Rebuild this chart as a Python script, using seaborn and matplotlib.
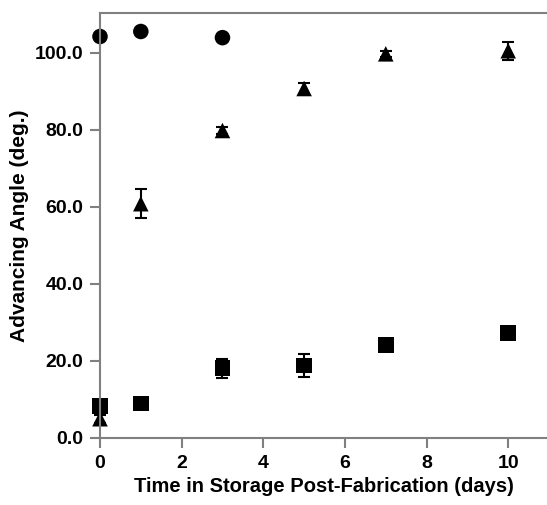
import matplotlib
matplotlib.use("Agg")
import matplotlib.pyplot as plt
import seaborn as sns
import pandas as pd

# Data
circle_days = [0, 1, 3]
circle_vals = [104.2, 105.5, 103.9]
circle_err = [1.0, 0.5, 0.5]

tri_days = [0, 1, 3, 5, 7, 10]
tri_vals = [5.0, 60.8, 79.8, 90.7, 99.7, 100.5]
tri_err = [1.0, 3.7, 0.8, 1.5, 0.8, 2.3]

sq_days = [0, 1, 3, 5, 7, 10]
sq_vals = [8.3, 9.0, 18.1, 18.8, 24.1, 27.2]
sq_err = [1.0, 1.3, 2.4, 2.9, 1.3, 0.5]

x_ticks = [0, 2, 4, 6, 8, 10]
y_ticks = [0, 20, 40, 60, 80, 100]

rows = []
for name, d, v, e in [("circle", circle_days, circle_vals, circle_err),
                      ("triangle", tri_days, tri_vals, tri_err),
                      ("square", sq_days, sq_vals, sq_err)]:
    for di, vi, ei in zip(d, v, e):
        rows.append({"series": name, "day": di, "angle": vi, "err": ei})
df = pd.DataFrame(rows)

sns.set_style("white")
plt.rcParams['font.family'] = ['Liberation Sans', 'DejaVu Sans']
plt.rcParams['font.weight'] = 'bold'
plt.rcParams['text.color'] = 'black'
plt.rcParams['axes.labelcolor'] = 'black'
plt.rcParams['xtick.color'] = 'black'
plt.rcParams['ytick.color'] = 'black'

fig = plt.figure(figsize=(5.47, 5.05), dpi=100)
ax = fig.add_axes([100/547, 1-438/505, 447/547, 425/505])

for name in ["circle", "triangle", "square"]:
    sub = df[df.series == name]
    ax.errorbar(sub.day, sub.angle, yerr=sub.err, fmt='none', ecolor='black',
                elinewidth=1.5, capsize=4.5, capthick=1.5, zorder=2, clip_on=False)

sns.scatterplot(data=df, x="day", y="angle", style="series",
                markers={"circle": "o", "triangle": "^", "square": "s"},
                s=125, color="black", edgecolor="black",
                linewidth=0, legend=False, ax=ax, zorder=3, clip_on=False)

ax.set_xlim(0, 10.95)
ax.set_ylim(0, 110.3)
ax.set_xticks(x_ticks)
ax.set_yticks(y_ticks)
ax.set_yticklabels([f"{t:.1f}" for t in y_ticks])
ax.tick_params(axis='both', direction='out', length=7, width=1.5, color='#808080',
               labelcolor='black', labelsize=14, pad=5, bottom=True, left=True)
for lab in ax.get_xticklabels() + ax.get_yticklabels():
    lab.set_fontweight('bold')

for side in ['left', 'bottom', 'top']:
    ax.spines[side].set_color('#808080')
    ax.spines[side].set_linewidth(1.5)
    ax.spines[side].set_zorder(4)
ax.spines['right'].set_visible(False)

ax.set_xlabel("Time in Storage Post-Fabrication (days)", fontsize=14.5, fontweight='bold', labelpad=4)
ax.set_ylabel("Advancing Angle (deg.)", fontsize=15, fontweight='bold', labelpad=4)

fig.savefig("out.png", dpi=100)
